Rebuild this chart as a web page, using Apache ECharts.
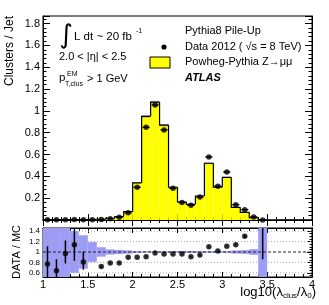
<!DOCTYPE html>
<html><head><meta charset="utf-8">
<script src="https://cdn.jsdelivr.net/npm/echarts@6/dist/echarts.min.js"></script>
<style>html,body{margin:0;padding:0;background:#fff}#c{width:329px;height:305px}</style>
</head><body><div id="c"></div>
<script>
// ---- data ----
const binCenters = [1.05,1.15,1.25,1.35,1.45,1.55,1.65,1.75,1.85,1.95,2.05,2.15,2.25,2.35,2.45,2.55,2.65,2.75,2.85,2.95,3.05,3.15,3.25,3.35,3.45,3.55,3.65,3.75,3.85,3.95];
const binWidth = 0.1;
const mcValues = [0.003,0.003,0.003,0.003,0.004,0.005,0.007,0.015,0.032,0.076,0.34,0.95,1.08,0.87,0.30,0.165,0.144,0.22,0.52,0.30,0.39,0.116,0.07,0.021,0.002,0,0,0,0,0];
const dataValues = [0.0025,0.002,0.003,0.0035,0.0033,0.002,0.005,0.012,0.025,0.066,0.30,0.85,1.055,0.826,0.29,0.16,0.135,0.21,0.578,0.31,0.44,0.14,0.095,0.028,0.001,null,null,null,null,null];
const mcRelErr = [0.6,0.6,0.6,0.4,0.32,0.19,0.09,0.05,0.04,0.03,0.015,0.012,0.012,0.012,0.015,0.02,0.02,0.018,0.015,0.015,0.015,0.03,0.035,0.055,1.0,0,0,0,0,0];
const ratioValues = [0.77,0.64,0.97,1.14,0.81,null,0.72,0.79,0.79,0.90,0.90,0.91,0.98,0.96,0.96,0.96,0.91,0.94,1.10,1.02,1.11,1.14,1.30,null,2.5,null,null,null,null,null];
const ratioErrLow = [0.35,0.40,0.78,0.83,0.66,null,0.70,0.78,0.78,0.89,0.895,0.905,0.975,0.955,0.955,0.95,0.90,0.93,1.09,1.01,1.10,1.12,1.27,null,0.86,null,null,null,null,null];
const ratioErrHigh = [1.11,0.86,1.22,1.44,1.01,null,0.74,0.80,0.80,0.91,0.905,0.915,0.985,0.965,0.965,0.97,0.92,0.95,1.11,1.03,1.12,1.16,1.33,null,4.0,null,null,null,null,null];
const ratioYTicks = [0.6,0.8,1,1.2,1.4];
const ratioYMinor = [0.55,0.6,0.65,0.7,0.75,0.8,0.85,0.9,0.95,1,1.05,1.1,1.15,1.2,1.25,1.3,1.35,1.4,1.45];
const xRange = [1,4];
const mainYRange = [0,1.87];
const ratioYRange = [0.52,1.46];

const FONT = "'Liberation Sans', Arial, Helvetica, sans-serif";
const chart = echarts.init(document.getElementById('c'), null, {renderer:'canvas'});

function xAxisCfg(grid, pos, labels, tickLen, minorLen){
  return {type:'value', gridIndex:grid, position:pos, min:xRange[0], max:xRange[1], interval:0.5,
    axisLine:{show:true, lineStyle:{color:'#000', width:1}},
    axisTick:{show:true, inside:true, length:tickLen, lineStyle:{color:'#000'}},
    minorTick:{show:true, splitNumber:5, length:minorLen, lineStyle:{color:'#000'}},
    splitLine:{show:false},
    axisLabel:{show:labels, margin:2, color:'#000', fontSize:11, fontFamily:FONT, showMaxLabel:true, showMinLabel:true,
      formatter:v=>String(+v.toFixed(1))}};
}
function ratioYAxis(pos, vals, len, labels){
  return {type:'value', gridIndex:1, position:pos, min:ratioYRange[0], max:ratioYRange[1],
    axisLine:{show:true, lineStyle:{color:'#000'}},
    axisTick:{show:true, inside:true, length:len, customValues:vals, lineStyle:{color:'#000'}},
    splitLine:{show:false},
    axisLabel:{show:labels, customValues:vals, margin:3, color:'#000', fontSize:8, fontFamily:FONT, formatter:v=>String(v)}};
}

const option = {
  animation:false,
  backgroundColor:'#fff',
  grid:[
    {left:43, top:16, width:269, height:204, show:true, borderColor:'#000', borderWidth:1, containLabel:false},
    {left:43, top:228, width:269, height:49, show:true, borderColor:'#000', borderWidth:1, containLabel:false}
  ],
  xAxis:[
    xAxisCfg(0,'bottom',false,6,3),
    xAxisCfg(0,'top',false,6,3),
    xAxisCfg(1,'bottom',true,5,3),
    xAxisCfg(1,'top',false,5,3)
  ],
  yAxis:[
    {type:'value', gridIndex:0, position:'left', min:mainYRange[0], max:mainYRange[1], interval:0.2,
      axisLine:{show:true, lineStyle:{color:'#000'}},
      axisTick:{show:true, inside:true, length:7, lineStyle:{color:'#000'}},
      minorTick:{show:true, splitNumber:5, length:3.5, lineStyle:{color:'#000'}},
      splitLine:{show:false},
      axisLabel:{margin:3, color:'#000', fontSize:11, fontFamily:FONT, showMaxLabel:false,
        formatter:v=>{const k=v*5; return (v>0 && Math.abs(k-Math.round(k))<1e-6 && v<1.85)? String(+v.toFixed(1)) : '';}}},
    {type:'value', gridIndex:0, position:'right', min:mainYRange[0], max:mainYRange[1], interval:0.2,
      axisLine:{show:true, lineStyle:{color:'#000'}},
      axisTick:{show:true, inside:true, length:7, lineStyle:{color:'#000'}},
      minorTick:{show:true, splitNumber:5, length:3.5, lineStyle:{color:'#000'}},
      splitLine:{show:false}, axisLabel:{show:false}},
    ratioYAxis('left', ratioYTicks, 5, true),
    ratioYAxis('left', ratioYMinor, 2.5, false),
    ratioYAxis('right', ratioYTicks, 5, false),
    ratioYAxis('right', ratioYMinor, 2.5, false)
  ],
  series:[
    // MC histogram
    {type:'custom', xAxisIndex:0, yAxisIndex:0, z:2, clip:true,
      data: binCenters.map((c,i)=>[c, mcValues[i], i]),
      renderItem:(params, api)=>{
        const c=api.value(0), y=api.value(1), i=api.value(2);
        const prev = i>0 ? mcValues[i-1] : 0;
        const a = api.coord([c-binWidth/2, y]), b = api.coord([c+binWidth/2, 0]);
        const pp = api.coord([c-binWidth/2, prev]);
        const kids = [];
        if (y>0) kids.push({type:'rect', shape:{x:a[0], y:a[1], width:b[0]-a[0], height:b[1]-a[1]}, style:{fill:'#ffff00'}});
        const e = mcRelErr[i];
        if (y>0 && e>0){
          const t = api.coord([c-binWidth/2, y*(1+e)]), bt = api.coord([c+binWidth/2, Math.max(0,y*(1-e))]);
          kids.push({type:'rect', shape:{x:t[0], y:t[1], width:bt[0]-t[0], height:bt[1]-t[1]}, style:{fill:'rgba(110,110,220,0.55)'}});
        }
        kids.push({type:'polyline', shape:{points:[[a[0],pp[1]],[a[0],a[1]],[b[0],a[1]]]}, style:{stroke:'#000', lineWidth:1.2, fill:null}});
        return {type:'group', children:kids};
      }},
    // data horizontal error bars (main)
    {type:'custom', xAxisIndex:0, yAxisIndex:0, z:3,
      data: binCenters.map((c,i)=>[c, dataValues[i]]).filter(d=>d[1]!==null),
      renderItem:(params, api)=>{
        const c=api.value(0), y=api.value(1);
        const a=api.coord([c-0.04,y]), b=api.coord([c+0.04,y]);
        return {type:'line', shape:{x1:a[0],y1:a[1],x2:b[0],y2:b[1]}, style:{stroke:'#000', lineWidth:1.3}};
      }},
    {type:'scatter', xAxisIndex:0, yAxisIndex:0, z:4, symbol:'circle', symbolSize:5.5,
      itemStyle:{color:'#000'},
      data: binCenters.map((c,i)=>[c, dataValues[i]]).filter(d=>d[1]!==null)},
    // ratio MC stat band
    {type:'custom', xAxisIndex:2, yAxisIndex:2, z:2, clip:true,
      data: binCenters.map((c,i)=>[c, mcRelErr[i]]).filter(d=>d[1]>0),
      renderItem:(params, api)=>{
        const c=api.value(0), e=api.value(1);
        const hi=Math.min(ratioYRange[1],1+e), lo=Math.max(ratioYRange[0],1-e);
        const a=api.coord([c-binWidth/2,hi]), b=api.coord([c+binWidth/2,lo]);
        return {type:'rect', shape:{x:a[0],y:a[1],width:b[0]-a[0],height:b[1]-a[1]}, style:{fill:'#9c9cf6'}};
      }},
    // ratio reference lines
    {type:'custom', xAxisIndex:2, yAxisIndex:2, z:3,
      data: ratioYTicks.map(v=>[v]),
      renderItem:(params, api)=>{
        const v=api.value(0);
        const a=api.coord([xRange[0],v]), b=api.coord([xRange[1],v]);
        const one = Math.abs(v-1)<1e-9;
        return {type:'line', shape:{x1:a[0],y1:a[1],x2:b[0],y2:b[1]},
          style:{stroke: one?'#222':'#aaa', lineWidth: one?1.2:1, lineDash: one?[3,2]:[1,2]}};
      }},
    // ratio error bars
    {type:'custom', xAxisIndex:2, yAxisIndex:2, z:4, clip:true,
      data: binCenters.map((c,i)=>[c, ratioErrLow[i], ratioErrHigh[i]]).filter(d=>d[1]!==null),
      renderItem:(params, api)=>{
        const c=api.value(0);
        const lo=Math.max(ratioYRange[0],api.value(1)), hi=Math.min(ratioYRange[1],api.value(2));
        const a=api.coord([c,lo]), b=api.coord([c,hi]);
        return {type:'line', shape:{x1:a[0],y1:a[1],x2:b[0],y2:b[1]}, style:{stroke:'#000', lineWidth:1.5}};
      }},
    {type:'scatter', xAxisIndex:2, yAxisIndex:2, z:5, symbol:'circle', symbolSize:5.5, clip:true,
      itemStyle:{color:'#000'},
      data: binCenters.map((c,i)=>[c, ratioValues[i]]).filter(d=>d[1]!==null && d[1]<=ratioYRange[1])}
  ],
  graphic:[
    {type:'text', x:10, y:16, rotation:Math.PI/2, style:{text:'Clusters / Jet', font:'12px '+FONT, fill:'#000', textAlign:'right', textVerticalAlign:'middle'}},
    {type:'text', x:17, y:252, rotation:Math.PI/2, style:{text:'DATA / MC', font:'11px '+FONT, fill:'#000', textAlign:'center', textVerticalAlign:'middle'}},
    {type:'text', x:316, y:292, style:{
      text:'{n|log10(λ}{s|clus}{n|/λ}{s|0}{n|)}', textAlign:'right', textVerticalAlign:'middle', fill:'#000',
      rich:{n:{fontSize:13, fontFamily:FONT, lineHeight:16, verticalAlign:'middle'}, s:{fontSize:8, fontFamily:FONT, lineHeight:8, verticalAlign:'bottom'}}}},
    // left annotations
    {type:'text', x:66, y:36, style:{text:'∫', font:'26px "DejaVu Sans"', fill:'#000', textAlign:'center', textVerticalAlign:'middle'}},
    {type:'text', x:74, y:37, style:{text:'L dt ~ 20 fb', font:'11.5px '+FONT, fill:'#000', textVerticalAlign:'middle'}},
    {type:'text', x:136, y:31, style:{text:'-1', font:'7px '+FONT, fill:'#000', textVerticalAlign:'middle'}},
    {type:'text', x:59, y:57, style:{text:'2.0 < |η| < 2.5', font:'11px '+FONT, fill:'#000', textVerticalAlign:'middle'}},
    {type:'text', x:59, y:78, style:{text:'p', font:'11.5px '+FONT, fill:'#000', textVerticalAlign:'middle'}},
    {type:'text', x:67, y:74, style:{text:'EM', font:'7px '+FONT, fill:'#000', textVerticalAlign:'middle'}},
    {type:'text', x:65, y:84, style:{text:'T,clus', font:'7px '+FONT, fill:'#000', textVerticalAlign:'middle'}},
    {type:'text', x:87, y:79, style:{text:'> 1 GeV', font:'11px '+FONT, fill:'#000', textVerticalAlign:'middle'}},
    // legend
    {type:'text', x:185, y:31, style:{text:'Pythia8 Pile-Up', font:'11px '+FONT, fill:'#000', textVerticalAlign:'middle'}},
    {type:'circle', shape:{cx:164, cy:47, r:2.6}, style:{fill:'#000'}},
    {type:'text', x:185, y:47, style:{text:'Data 2012 ( √s = 8 TeV)', font:'11px '+FONT, fill:'#000', textVerticalAlign:'middle'}},
    {type:'rect', shape:{x:150, y:57, width:20, height:11}, style:{fill:'#ffff00', stroke:'#000', lineWidth:1}},
    {type:'text', x:185, y:62, style:{text:'Powheg-Pythia Z→μμ', font:'11px '+FONT, fill:'#000', textVerticalAlign:'middle'}},
    {type:'text', x:185, y:78, style:{text:'ATLAS', font:'italic bold 11px '+FONT, fill:'#000', textVerticalAlign:'middle'}}
  ]
};
chart.setOption(option);
</script></body></html>
